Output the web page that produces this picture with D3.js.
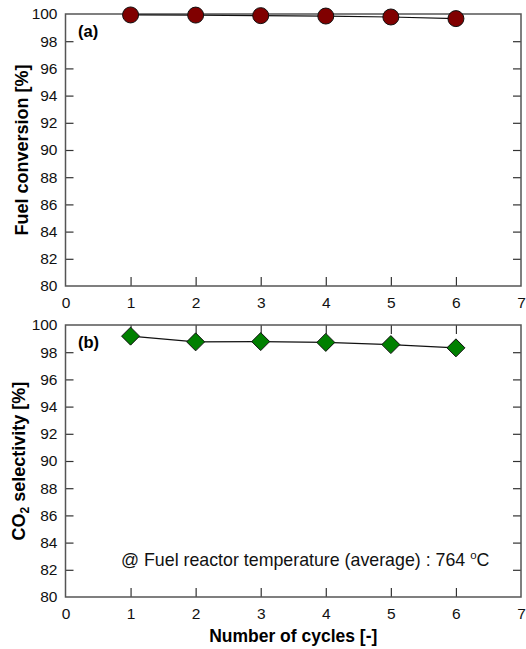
<!DOCTYPE html>
<html lang="en">
<head>
    <meta charset="UTF-8">
    <title>Fuel conversion / CO2 selectivity</title>
    <script src="https://d3js.org/d3.v7.min.js"></script>
    <style>
        body { margin: 0; background-color: white; }
        svg { display: block; font-family: "Liberation Sans", Arial, sans-serif; }
    </style>
</head>
<body>
    <svg id="chart"></svg>

    <script>
        const width = 526;
        const height = 649;

        // data
        const cycles = [1, 2, 3, 4, 5, 6];
        const fuelConversion = [99.93, 99.92, 99.88, 99.85, 99.78, 99.66];
        const co2Selectivity = [99.18, 98.76, 98.78, 98.72, 98.56, 98.32];
        const xTicks = [0, 1, 2, 3, 4, 5, 6, 7];
        const yTicks = [80, 82, 84, 86, 88, 90, 92, 94, 96, 98, 100];

        const svg = d3.select("#chart")
            .attr("width", width)
            .attr("height", height);

        const left = 65.5, right = 521;
        const x = d3.scaleLinear().domain([0, 7]).range([left, right]);

        const panels = [
            { top: 14, bottom: 286, values: fuelConversion, label: "(a)", title: "Fuel conversion [%]", titleX: 28, marker: "circle", color: "#800000" },
            { top: 325, bottom: 597, values: co2Selectivity, label: "(b)", title: "CO2", titleX: 25, marker: "diamond", color: "#008000" }
        ];

        panels.forEach(p => {
            const y = d3.scaleLinear().domain([80, 100]).range([p.bottom, p.top]);
            const g = svg.append("g");

            // left axis: labels outside, ticks inward
            g.append("g")
                .attr("transform", `translate(${left},0)`)
                .call(d3.axisLeft(y).tickValues(yTicks).tickSize(0).tickPadding(8))
                .call(a => a.select(".domain").remove());
            g.append("g")
                .attr("transform", `translate(${left},0)`)
                .call(d3.axisRight(y).tickValues(yTicks.slice(1, -1)).tickSize(8).tickFormat(""))
                .call(a => a.select(".domain").remove());
            // right axis, inward ticks
            g.append("g")
                .attr("transform", `translate(${right},0)`)
                .call(d3.axisLeft(y).tickValues(yTicks.slice(1, -1)).tickSize(8).tickFormat(""))
                .call(a => a.select(".domain").remove());
            // bottom axis, inward ticks
            g.append("g")
                .attr("transform", `translate(0,${p.bottom})`)
                .call(d3.axisTop(x).tickValues(xTicks.slice(1, -1)).tickSize(9).tickFormat(""))
                .call(a => a.select(".domain").remove());
            g.append("g")
                .attr("transform", `translate(0,${p.bottom})`)
                .call(d3.axisBottom(x).tickValues(xTicks).tickSize(0).tickPadding(11).tickFormat(d3.format("d")))
                .call(a => a.select(".domain").remove());
            // top axis, inward ticks
            g.append("g")
                .attr("transform", `translate(0,${p.top})`)
                .call(d3.axisBottom(x).tickValues(xTicks.slice(1, -1)).tickSize(9).tickFormat(""))
                .call(a => a.select(".domain").remove());

            g.selectAll(".tick text").attr("font-size", 15.5).attr("fill", "#111")
                .attr("font-family", "Liberation Sans, Arial, sans-serif");
            g.selectAll(".tick line").attr("stroke", "#333").attr("stroke-width", 1.2);

            // frame
            g.append("rect")
                .attr("x", left).attr("y", p.top)
                .attr("width", right - left).attr("height", p.bottom - p.top)
                .attr("fill", "none").attr("stroke", "#555").attr("stroke-width", 1.5);

            const pts = cycles.map((c, i) => [x(c), y(p.values[i])]);

            g.append("path")
                .attr("d", d3.line()(pts))
                .attr("fill", "none").attr("stroke", "#111").attr("stroke-width", 1.2);

            if (p.marker === "circle") {
                g.selectAll(".m").data(pts).enter().append("circle")
                    .attr("cx", d => d[0]).attr("cy", d => d[1]).attr("r", 8)
                    .attr("fill", p.color).attr("stroke", "#111").attr("stroke-width", 1);
            } else {
                g.selectAll(".m").data(pts).enter().append("path")
                    .attr("d", d => `M${d[0]},${d[1] - 9}L${d[0] + 9},${d[1]}L${d[0]},${d[1] + 9}L${d[0] - 9},${d[1]}Z`)
                    .attr("fill", p.color).attr("stroke", "#111").attr("stroke-width", 1);
            }

            g.append("text")
                .attr("x", 78).attr("y", p.top + 23)
                .attr("font-size", 16.5).attr("font-weight", "bold")
                .text(p.label);

            const cy = (p.top + p.bottom) / 2;
            const t = g.append("text")
                .attr("transform", `translate(${p.titleX},${cy}) rotate(-90)`)
                .attr("text-anchor", "middle")
                .attr("font-size", 18).attr("font-weight", "bold");
            if (p.title === "CO2") {
                t.append("tspan").text("CO");
                t.append("tspan").attr("font-size", 12).attr("dy", 4).text("2");
                t.append("tspan").attr("dy", -4).text(" selectivity [%]");
            } else {
                t.text(p.title);
            }
        });

        // annotation
        const ann = svg.append("text")
            .attr("x", 121).attr("y", 566)
            .attr("font-size", 17.8).attr("fill", "#111");
        ann.append("tspan").text("@ Fuel reactor temperature (average) : 764 ");
        ann.append("tspan").attr("font-size", 11.5).attr("dy", -7).text("o");
        ann.append("tspan").attr("dy", 7).text("C");

        svg.append("text")
            .attr("x", (left + right) / 2).attr("y", 642)
            .attr("text-anchor", "middle")
            .attr("font-size", 17.5).attr("font-weight", "bold")
            .text("Number of cycles [-]");
    </script>
</body>
</html>
